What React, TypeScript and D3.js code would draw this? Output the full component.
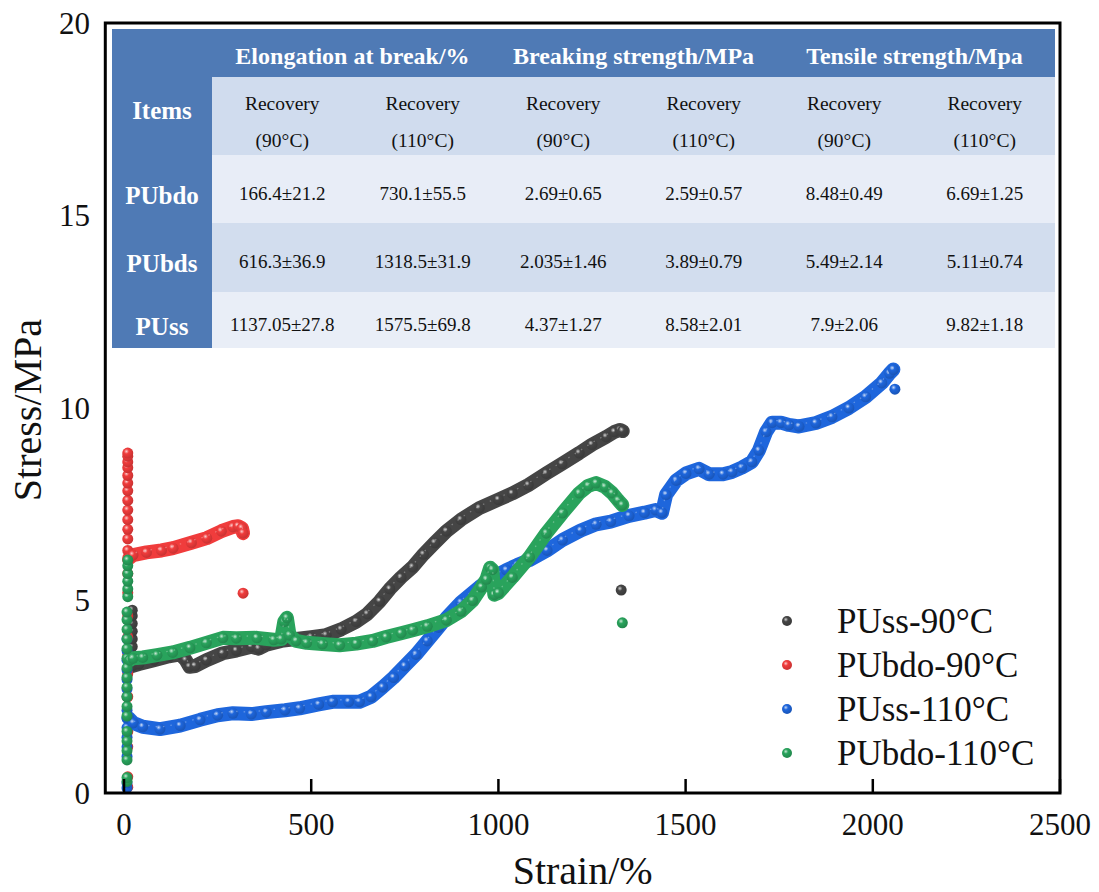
import React from 'react'
import * as d3 from 'd3'

type Pt = [number, number]

// axis ticks
const strainTicks = [0, 500, 1000, 1500, 2000, 2500]
const stressTicks = [0, 5, 10, 15, 20]

// PUss-90°C (grey)
const ussRise90: Pt[] = [[22, 3.3], [22, 3.55], [22, 3.8], [22, 4.0], [22, 4.2], [22, 4.4], [22, 4.6], [22, 4.75], [8, 2.5]]
const uss90: Pt[] = [
  [22, 3.3], [40, 3.35], [80, 3.45], [120, 3.55], [150, 3.6], [165, 3.45], [175, 3.28], [190, 3.3],
  [220, 3.45], [264, 3.63], [300, 3.7], [340, 3.8], [360, 3.75], [380, 3.85], [420, 3.95], [460, 4.0],
  [500, 4.05], [540, 4.1], [580, 4.25], [620, 4.45], [650, 4.65], [683, 4.98], [710, 5.3], [740, 5.6],
  [771, 5.87], [800, 6.2], [830, 6.5], [861, 6.8], [900, 7.1], [949, 7.4], [1000, 7.62], [1037, 7.78],
  [1080, 8.0], [1128, 8.3], [1170, 8.55], [1216, 8.83], [1250, 9.05], [1288, 9.25], [1310, 9.38],
  [1325, 9.43], [1332, 9.4]
]
const ussOut90: Pt[] = [[1328, 5.27]]

// PUbdo-90°C (red)
const bdoRise90: Pt[] = [
  [10, 0.15], [10, 0.42], [10, 1.2], [10, 1.6], [10, 2.0], [10, 2.5], [10, 3.1], [10, 3.6], [10, 4.05],
  [10, 4.6], [10, 5.2], [10, 5.7], [10, 6.05], [10, 6.3], [10, 6.6], [10, 6.85], [10, 7.1], [10, 7.35],
  [10, 7.6], [10, 7.85], [10, 8.05], [10, 8.25], [10, 8.45], [10, 8.6], [10, 8.75], [10, 8.83]
]
const bdo90: Pt[] = [
  [14, 6.1], [24, 6.18], [60, 6.25], [100, 6.3], [131, 6.36], [180, 6.5], [221, 6.62], [260, 6.8],
  [291, 6.91], [305, 6.93], [315, 6.88], [318, 6.75]
]
const bdoOut90: Pt[] = [[318, 5.19]]

// PUss-110°C (blue)
const ussRise110: Pt[] = [
  [8, 0.13], [8, 0.26], [8, 0.95], [8, 1.2], [8, 1.45], [8, 1.7], [8, 1.95], [8, 2.15], [8, 2.7],
  [8, 2.95], [8, 3.2], [8, 3.45], [8, 3.7], [8, 4.0]
]
const uss110: Pt[] = [
  [12, 1.95], [25, 1.82], [50, 1.72], [96, 1.66], [150, 1.75], [203, 1.9], [250, 2.02], [291, 2.07],
  [340, 2.05], [380, 2.1], [430, 2.15], [469, 2.2], [520, 2.3], [557, 2.37], [600, 2.37], [629, 2.37],
  [660, 2.5], [691, 2.75], [720, 3.0], [750, 3.3], [780, 3.6], [810, 3.95], [840, 4.3], [861, 4.55],
  [900, 4.95], [949, 5.35], [985, 5.6], [1021, 5.79], [1050, 5.92], [1083, 6.05], [1130, 6.3],
  [1171, 6.57], [1220, 6.82], [1261, 6.98], [1300, 7.05], [1349, 7.2], [1390, 7.28], [1420, 7.35],
  [1437, 7.28], [1448, 7.75], [1475, 8.12], [1501, 8.3], [1536, 8.42], [1563, 8.28], [1600, 8.28],
  [1624, 8.34], [1650, 8.45], [1677, 8.6], [1696, 8.9], [1715, 9.38], [1731, 9.62], [1755, 9.62],
  [1776, 9.56], [1803, 9.52], [1848, 9.61], [1891, 9.77], [1936, 10.0], [1981, 10.29], [2024, 10.65],
  [2045, 10.9], [2055, 11.0]
]
const ussOut110: Pt[] = [[2059, 10.49]]

// PUbdo-110°C (green)
const bdoRise110: Pt[] = [
  [8, 0.3], [8, 0.4], [8, 0.86], [8, 1.1], [8, 1.35], [8, 1.6], [8, 2.0], [8, 2.25], [8, 2.5], [8, 2.75],
  [8, 3.0], [8, 3.25], [8, 3.5], [8, 3.75], [8, 4.0], [8, 4.25], [8, 4.5], [8, 4.7], [10, 5.1], [10, 5.3],
  [10, 5.5], [10, 5.7], [10, 5.9], [10, 6.05]
]
const bdo110: Pt[] = [
  [15, 3.45], [24, 3.5], [50, 3.52], [88, 3.58], [130, 3.65], [176, 3.77], [220, 3.9], [264, 4.03],
  [300, 4.02], [355, 4.03], [400, 3.98], [420, 4.0], [428, 4.45], [435, 4.55], [442, 4.1], [460, 3.95],
  [488, 3.9], [530, 3.87], [576, 3.84], [620, 3.88], [664, 3.95], [700, 4.05], [740, 4.15], [771, 4.23],
  [810, 4.33], [861, 4.49], [900, 4.72], [931, 5.0], [955, 5.35], [968, 5.55], [978, 5.85], [984, 5.8],
  [989, 5.15], [1000, 5.2], [1037, 5.6], [1083, 6.13], [1128, 6.75], [1171, 7.27], [1216, 7.79],
  [1240, 7.98], [1261, 8.05], [1285, 7.95], [1304, 7.79], [1320, 7.6], [1331, 7.48]
]
const bdoOut110: Pt[] = [[1331, 4.42]]

const seriesNames = ['PUss-90°C', 'PUbdo-90°C', 'PUss-110°C', 'PUbdo-110°C']
const seriesColors = ['#454545', '#f03c3c', '#1e66dc', '#29a35c']
const seriesRise = [ussRise90, bdoRise90, ussRise110, bdoRise110]
const seriesBand = [uss90, bdo90, uss110, bdo110]
const seriesOut = [ussOut90, bdoOut90, ussOut110, bdoOut110]

// inset table
const groupHeaders = ['Elongation at break/%', 'Breaking strength/MPa', 'Tensile strength/Mpa']
const subHeaders = ['(90°C)', '(110°C)', '(90°C)', '(110°C)', '(90°C)', '(110°C)']
const rowLabels = ['PUbdo', 'PUbds', 'PUss']
const rowValues = [
  ['166.4±21.2', '730.1±55.5', '2.69±0.65', '2.59±0.57', '8.48±0.49', '6.69±1.25'],
  ['616.3±36.9', '1318.5±31.9', '2.035±1.46', '3.89±0.79', '5.49±2.14', '5.11±0.74'],
  ['1137.05±27.8', '1575.5±69.8', '4.37±1.27', '8.58±2.01', '7.9±2.06', '9.82±1.18']
]

const serif = "'Liberation Serif', 'Times New Roman', serif"

export default function App() {
  const width = 1099
  const height = 892
  const frame = { left: 105.3, right: 1060, top: 23, bottom: 793 }

  const x = d3.scaleLinear().domain([-50, 2500]).range([frame.left, frame.right])
  const y = d3.scaleLinear().domain([0, 20]).range([frame.bottom, frame.top])
  const line = d3.line<Pt>().x(d => x(d[0])).y(d => y(d[1]))

  // table layout
  const tLeft = 112, tItems = 212, tRight = 1055
  const rowEdges = [29, 77, 155, 223, 292, 348]
  const rowFills = ['#d0dcee', '#e8edf7', '#d2ddee', '#e9eef7']
  const headBlue = '#4f7ab5'
  const col = d3.scaleBand<number>().domain(d3.range(6)).range([tItems, tRight])
  const cx = (i: number) => (col(i) as number) + col.bandwidth() / 2

  const legendX = 787
  const legendY = d3.scalePoint<number>().domain(d3.range(4)).range([621, 753])

  return (
    <svg width={width} height={height} style={{ position: 'absolute', left: 0, top: 0, background: '#fff' }}
      fontFamily={serif}>
      <defs>
        {seriesColors.map((c, i) => (
          <radialGradient key={i} id={`ball-${i}`} cx="38%" cy="35%" r="65%">
            <stop offset="0%" stopColor={d3.interpolateRgb(c, '#ffffff')(0.75)} />
            <stop offset="35%" stopColor={c} />
            <stop offset="100%" stopColor={d3.color(c)!.darker(0.5).formatHex()} />
          </radialGradient>
        ))}
      </defs>

      {/* table */}
      <rect x={tLeft} y={rowEdges[0]} width={tRight - tLeft} height={rowEdges[1] - rowEdges[0]} fill={headBlue} />
      <rect x={tLeft} y={rowEdges[0]} width={tItems - tLeft} height={rowEdges[5] - rowEdges[0]} fill={headBlue} />
      {rowFills.map((f, i) => (
        <rect key={i} x={tItems} y={rowEdges[i + 1]} width={tRight - tItems}
          height={rowEdges[i + 2] - rowEdges[i + 1]} fill={f} />
      ))}
      {groupHeaders.map((h, i) => (
        <text key={h} x={(cx(2 * i) + cx(2 * i + 1)) / 2} y={56} dy="0.35em" textAnchor="middle"
          fontSize={24} fontWeight="bold" fill="#fff">{h}</text>
      ))}
      <text x={(tLeft + tItems) / 2} y={110} dy="0.35em" textAnchor="middle" fontSize={25}
        fontWeight="bold" fill="#fff">Items</text>
      {subHeaders.map((s, i) => (
        <g key={i} fontSize={19.5} fill="#111" textAnchor="middle">
          <text x={cx(i)} y={103} dy="0.35em">Recovery</text>
          <text x={cx(i)} y={140} dy="0.35em">{s}</text>
        </g>
      ))}
      {rowLabels.map((r, ri) => {
        const cy = (rowEdges[ri + 2] + rowEdges[ri + 3]) / 2 + 4
        return (
          <g key={r}>
            <text x={(tLeft + tItems) / 2} y={cy + 2} dy="0.35em" textAnchor="middle" fontSize={25}
              fontWeight="bold" fill="#fff">{r}</text>
            {rowValues[ri].map((v, ci) => (
              <text key={ci} x={cx(ci)} y={cy} dy="0.35em" textAnchor="middle" fontSize={19}
                fill="#111">{v}</text>
            ))}
          </g>
        )
      })}

      {/* series */}
      {seriesColors.map((c, i) => (
        <g key={i}>
          <path d={line(seriesBand[i]) || ''} fill="none" stroke={c} strokeWidth={14}
            strokeLinejoin="round" strokeLinecap="round" />
          {[...seriesRise[i], ...seriesBand[i], ...seriesOut[i]].map((d, j) => (
            <circle key={j} cx={x(d[0])} cy={y(d[1])} r={5.5} fill={`url(#ball-${i})`} />
          ))}
          <path d={line(seriesBand[i]) || ''} fill="none" stroke="#fff" strokeOpacity={0.3}
            strokeWidth={1.3} strokeDasharray="1.5 6" transform="translate(0,-2)" />
        </g>
      ))}

      {/* frame and ticks */}
      <rect x={frame.left} y={frame.top} width={frame.right - frame.left} height={frame.bottom - frame.top}
        fill="none" stroke="#000" strokeWidth={3} />
      {strainTicks.map(t => (
        <g key={t}>
          <line x1={x(t)} x2={x(t)} y1={frame.bottom} y2={frame.bottom - 14} stroke="#000" strokeWidth={2.5} />
          <text x={x(t)} y={835} textAnchor="middle" fontSize={31} fill="#111">{t}</text>
        </g>
      ))}
      {stressTicks.map(t => (
        <text key={t} x={90} y={y(t)} dy="0.35em" textAnchor="end" fontSize={31} fill="#111">{t}</text>
      ))}
      <text x={(frame.left + frame.right) / 2} y={884} textAnchor="middle" fontSize={40} fill="#111">Strain/%</text>
      <text transform={`translate(41, 410) rotate(-90)`} textAnchor="middle" fontSize={40} fill="#111">Stress/MPa</text>

      {/* legend */}
      {seriesNames.map((n, i) => (
        <g key={n} transform={`translate(${legendX}, ${legendY(i)})`}>
          <circle r={5} fill={`url(#ball-${i})`} />
          <text x={50} y={0} dy="0.35em" fontSize={35} fill="#111">{n}</text>
        </g>
      ))}
    </svg>
  )
}
